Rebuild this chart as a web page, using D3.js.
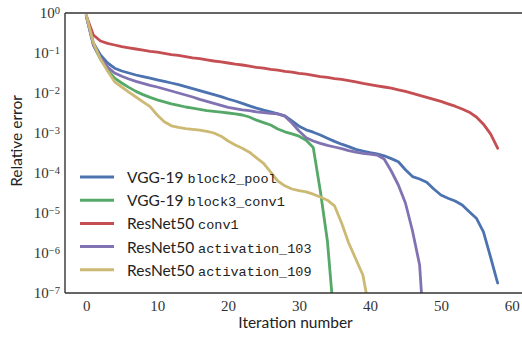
<!DOCTYPE html>
<html>
<head>
<meta charset="utf-8">
<script src="https://cdn.jsdelivr.net/npm/d3@7"></script>
<style>
  body { margin: 0; background: #fff; }
  svg { display: block; }
</style>
</head>
<body>
<div class="chart"></div>
<script>
// log10(relative error), one value per iteration (0, 1, 2, ...)
var vggPool = [-0.07, -0.75, -1.05, -1.25, -1.38, -1.45, -1.50, -1.55, -1.59, -1.63,
  -1.67, -1.71, -1.75, -1.79, -1.84, -1.89, -1.94, -1.99, -2.04, -2.09,
  -2.15, -2.20, -2.26, -2.32, -2.38, -2.43, -2.47, -2.52, -2.57, -2.70,
  -2.83, -2.92, -2.98, -3.05, -3.13, -3.21, -3.28, -3.34, -3.41, -3.45,
  -3.49, -3.52, -3.57, -3.64, -3.72, -3.92, -4.09, -4.15, -4.23, -4.40,
  -4.55, -4.63, -4.70, -4.80, -4.97, -5.13, -5.47, -6.10, -6.75];
var vggConv = [-0.07, -0.80, -1.15, -1.42, -1.63, -1.75, -1.86, -1.96, -2.04, -2.11,
  -2.17, -2.22, -2.27, -2.31, -2.35, -2.38, -2.41, -2.44, -2.46, -2.48,
  -2.50, -2.52, -2.55, -2.60, -2.68, -2.74, -2.80, -2.90, -2.97, -3.02,
  -3.08, -3.18, -3.36, -4.45, -5.70, -7.80];
var resConv = [-0.07, -0.55, -0.70, -0.76, -0.80, -0.84, -0.87, -0.90, -0.93, -0.96,
  -0.98, -1.01, -1.04, -1.06, -1.09, -1.12, -1.14, -1.17, -1.20, -1.22,
  -1.25, -1.28, -1.30, -1.33, -1.36, -1.38, -1.41, -1.43, -1.46, -1.48,
  -1.51, -1.53, -1.56, -1.59, -1.61, -1.64, -1.66, -1.69, -1.72, -1.76,
  -1.79, -1.82, -1.85, -1.88, -1.92, -1.96, -2.01, -2.06, -2.11, -2.16,
  -2.21, -2.27, -2.33, -2.40, -2.48, -2.60, -2.78, -3.02, -3.38];
var resAct103 = [-0.07, -0.80, -1.12, -1.35, -1.50, -1.58, -1.65, -1.71, -1.76, -1.81,
  -1.85, -1.90, -1.95, -2.00, -2.05, -2.10, -2.16, -2.21, -2.26, -2.31,
  -2.36, -2.39, -2.42, -2.44, -2.47, -2.49, -2.51, -2.52, -2.58, -2.75,
  -2.95, -3.12, -3.20, -3.26, -3.31, -3.35, -3.39, -3.44, -3.48, -3.51,
  -3.53, -3.55, -3.65, -3.95, -4.30, -4.75, -5.45, -6.30, -9.00];
var resAct109 = [-0.05, -0.75, -1.15, -1.45, -1.72, -1.85, -1.98, -2.10, -2.22, -2.34,
  -2.55, -2.72, -2.82, -2.86, -2.89, -2.91, -2.93, -2.96, -3.00, -3.08,
  -3.20, -3.30, -3.38, -3.48, -3.62, -3.76, -3.98, -4.20, -4.32, -4.40,
  -4.44, -4.47, -4.53, -4.60, -4.68, -4.82, -5.25, -5.75, -6.15, -6.55,
  -7.50];

var seriesNames = [
  ["VGG-19 ", "block2_pool"],
  ["VGG-19 ", "block3_conv1"],
  ["ResNet50 ", "conv1"],
  ["ResNet50 ", "activation_103"],
  ["ResNet50 ", "activation_109"]
];
var seriesData = [vggPool, vggConv, resConv, resAct103, resAct109];
var colors = ["#4C72B0", "#55A868", "#C44E52", "#8172B2", "#CCB974"];
var xTicks = [0, 10, 20, 30, 40, 50, 60];
var yExponents = [0, -1, -2, -3, -4, -5, -6, -7];

var svgWidth = 522;
var svgHeight = 337;
var margin = { top: 13, right: -4, bottom: 44, left: 65 };
var width = svgWidth - margin.left - margin.right;
var height = svgHeight - margin.top - margin.bottom;

var svg = d3.select(".chart")
  .append("svg")
  .attr("width", svgWidth)
  .attr("height", svgHeight);

var chartGroup = svg.append("g")
  .attr("transform", `translate(${margin.left}, ${margin.top})`);

var xScale = d3.scaleLinear().domain([-3, 62]).range([0, width]);
var yScale = d3.scaleLog().domain([1e-7, 1]).range([height, 0]);

chartGroup.append("clipPath")
  .attr("id", "plot-clip")
  .append("rect")
  .attr("width", width)
  .attr("height", height);

// lines
var line = d3.line()
  .x((d, i) => xScale(i))
  .y(d => yScale(Math.pow(10, d)));

chartGroup.append("g")
  .attr("clip-path", "url(#plot-clip)")
  .selectAll("path")
  .data(seriesData)
  .enter()
  .append("path")
  .attr("d", d => line(d))
  .attr("fill", "none")
  .attr("stroke", (d, i) => colors[i])
  .attr("stroke-width", 2.8)
  .attr("stroke-linejoin", "round")
  .attr("stroke-linecap", "round");

// axes
var bottomAxis = d3.axisBottom(xScale).tickValues(xTicks).tickSize(0).tickPadding(7);
var leftAxis = d3.axisLeft(yScale)
  .tickValues(yExponents.map(e => Math.pow(10, e)))
  .tickSize(0).tickPadding(5)
  .tickFormat("");

var xAxis = chartGroup.append("g")
  .attr("transform", `translate(0, ${height})`)
  .call(bottomAxis);

var yAxis = chartGroup.append("g").call(leftAxis);
yAxis.selectAll(".tick text").each(function (d) {
  var e = Math.round(Math.log10(d));
  var t = d3.select(this);
  t.append("tspan").text("10");
  t.append("tspan")
    .attr("class", "sup")
    .attr("dy", "-0.45em")
    .text(e === 0 ? "0" : "\u2212" + (-e));
});

svg.selectAll(".tick text")
  .attr("font-family", null)
  .style("font-family", "'Liberation Serif', 'DejaVu Serif', serif")
  .style("font-size", "15px")
  .style("fill", "#333");
yAxis.selectAll(".sup").style("font-size", "10.5px");

svg.selectAll(".domain").remove();

// spines: left, bottom, top
var spine = chartGroup.append("g")
  .attr("stroke", "#333")
  .attr("stroke-width", 1.4)
  .attr("fill", "none");
spine.append("line").attr("x1", 0).attr("x2", 0).attr("y1", 0).attr("y2", height);
spine.append("line").attr("x1", 0).attr("x2", width).attr("y1", height).attr("y2", height);
spine.append("line").attr("x1", 0).attr("x2", width).attr("y1", 0).attr("y2", 0);

// axis labels
chartGroup.append("text")
  .attr("x", width / 2)
  .attr("y", height + 35)
  .attr("text-anchor", "middle")
  .style("font-family", "Lato, sans-serif")
  .style("font-size", "15.5px")
  .style("fill", "#222")
  .text("Iteration number");

chartGroup.append("text")
  .attr("transform", "rotate(-90)")
  .attr("x", -(height / 2) + 12)
  .attr("y", -margin.left + 22)
  .attr("text-anchor", "middle")
  .style("font-family", "Lato, sans-serif")
  .style("font-size", "15.5px")
  .style("fill", "#222")
  .text("Relative error");

// legend
var legend = chartGroup.append("g")
  .attr("transform", `translate(15, 164)`);

var rows = legend.selectAll("g")
  .data(seriesNames)
  .enter()
  .append("g")
  .attr("transform", (d, i) => `translate(0, ${i * 23.2})`);

rows.append("line")
  .attr("x1", 0).attr("x2", 34)
  .attr("stroke", (d, i) => colors[i])
  .attr("stroke-width", 3);

var label = rows.append("text")
  .attr("x", 47)
  .attr("y", 6)
  .style("fill", "#222");
label.append("tspan")
  .style("font-family", "Lato, sans-serif")
  .style("font-size", "15.5px")
  .text(d => d[0]);
label.append("tspan")
  .style("font-family", "Liberation Mono, monospace")
  .style("font-size", "13.5px")
  .text(d => d[1]);
</script>
</body>
</html>
